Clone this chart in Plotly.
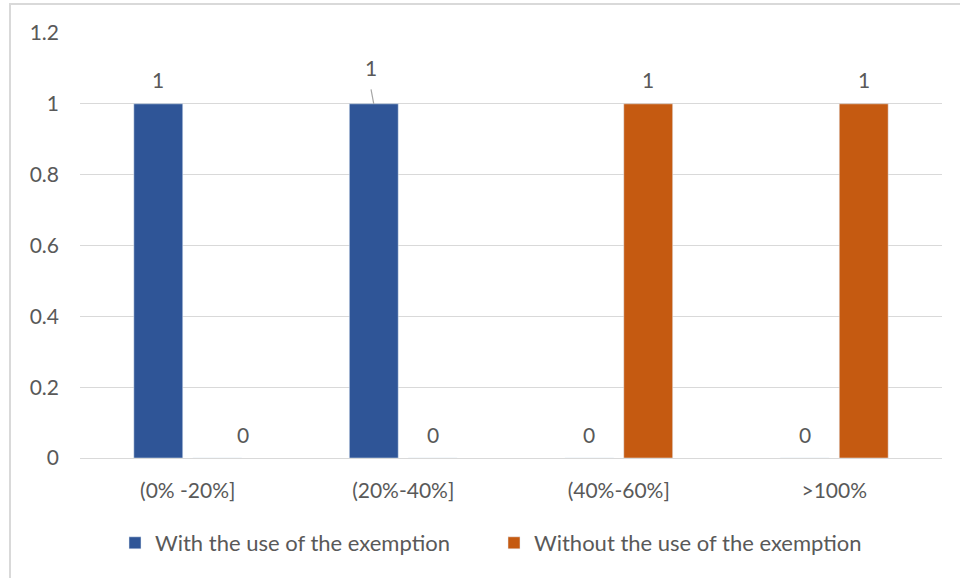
import plotly.graph_objects as go

categories = ["(0% -20%]", "(20%-40%]", "(40%-60%]", ">100%"]
series_names = ["With the use of the exemption", "Without the use of the exemption"]
with_exemption = [1, 1, 0, 0]
without_exemption = [0, 0, 1, 1]
y_ticks = [0, 0.2, 0.4, 0.6, 0.8, 1, 1.2]
y_tick_labels = ["0", "0.2", "0.4", "0.6", "0.8", "1", "1.2"]

BLUE = "#2F5597"
ORANGE = "#C55A11"
TEXT = "#595959"
FONT = "Lato, Calibri, Carlito, sans-serif"
FS = 21

fig = go.Figure()
fig.add_trace(go.Bar(x=categories, y=with_exemption, name=series_names[0],
                     marker_color=BLUE))
fig.add_trace(go.Bar(x=categories, y=without_exemption, name=series_names[1],
                     marker_color=ORANGE))

# data labels anchored to the data through the axes
label_specs = [
    (with_exemption, -0.5, 0),
    (without_exemption, 0.5, 1),
]
ann = []
for vals, side, idx in label_specs:
    for i, v in enumerate(vals):
        xshift = side * 59
        yshift = 24
        arrow = False
        if idx == 1 and i == 0:
            xshift = side * 59 + 26
        if idx == 0 and i == 1:
            yshift = 36
            xshift = side * 59 - 3
            arrow = True
        ann.append(dict(x=categories[i], y=v, xref="x", yref="y", text=str(v),
                        showarrow=False, yanchor="middle", xshift=xshift, yshift=yshift,
                        font=dict(size=FS, color=TEXT, family=FONT)))
        if arrow:
            ann.append(dict(x=categories[i], y=v, xref="x", yref="y", text="",
                            showarrow=True, arrowhead=0, arrowwidth=1.2, arrowcolor="#A6A6A6",
                            ax=-3, ay=-16, xshift=side * 59, standoff=0))

fig.update_layout(
    width=960, height=578,
    paper_bgcolor="white", plot_bgcolor="white",
    margin=dict(l=80, r=18, t=33, b=120),
    barmode="group", bargap=0.453, bargroupgap=0.17,
    font=dict(family=FONT, size=FS, color=TEXT),
    showlegend=True,
    legend=dict(orientation="h", x=(115 - 80) / 862, xanchor="left", y=-0.2, yanchor="middle",
                font=dict(size=22, color=TEXT, family=FONT),
                entrywidth=334, entrywidthmode="pixels",
                traceorder="normal"),
    annotations=ann,
    shapes=[dict(type="rect", xref="paper", yref="paper",
                 x0=-70 / 862, x1=1.1, y0=-0.4, y1=1 + 29 / 425,
                 line=dict(color="#D9D9D9", width=2), layer="below")],
)
fig.update_xaxes(showgrid=False, showline=True, linecolor="#D9D9D9", linewidth=1,
                 ticks="", tickfont=dict(size=FS, color=TEXT), ticklabelstandoff=14)
fig.update_yaxes(range=[0, 1.2], tickvals=y_ticks, ticktext=y_tick_labels,
                 showgrid=True, gridcolor="#D9D9D9", gridwidth=1,
                 zeroline=False, showline=False, ticks="",
                 tickfont=dict(size=FS, color=TEXT), ticklabelstandoff=20)

fig.write_html("out.html", config={"displayModeBar": False},
               post_script="document.body.style.margin='0';")
